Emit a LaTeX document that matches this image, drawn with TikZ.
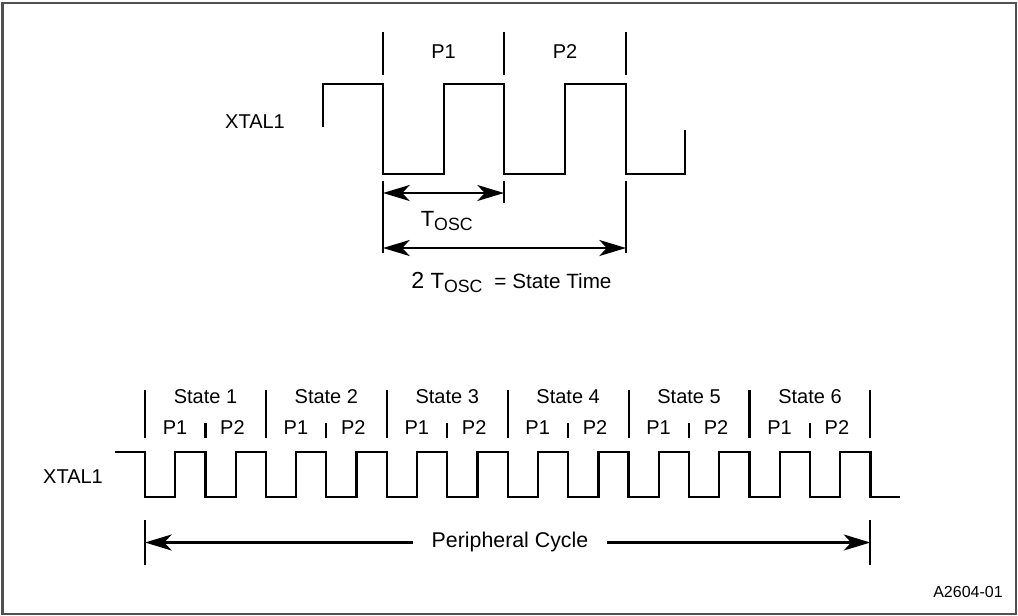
\documentclass[tikz,border=0pt]{standalone}
\usepackage{fontspec}
\setmainfont{Liberation Sans}
\usetikzlibrary{positioning,arrows.meta}
\definecolor{cFrame}{RGB}{80,80,80}
\newcommand{\Tosc}{{\fontsize{16.5}{17}\selectfont T}\raisebox{-3.2pt}{\fontsize{13.3}{14}\selectfont OSC}}

\begin{document}
\begin{tikzpicture}[x=0.75pt,y=-0.75pt,font=\fontsize{15}{18}\selectfont]
\tikzset{wave/.style={line width=1.7pt,line join=miter},
  tickmark/.style={line width=1.6pt},
  dim/.style={line width=1.6pt,{Stealth[length=20pt,width=12pt,inset=5.5pt]}-{Stealth[length=20pt,width=12pt,inset=5.5pt]}},
  lbl/.style={inner sep=0pt}}
\useasboundingbox (0,0) rectangle (1018,615);
\draw[cFrame,line width=1.5pt] (2.5,2.5) rectangle (1015.5,613.5);

% one state, enlarged
\node[lbl] (xtalA) at (255,122) {XTAL1};
\draw[wave] (323,127) -- (323,84) -- (383,84) -- (383,174) -- (444,174) -- (444,84) -- (504,84)
  -- (504,174) -- (565,174) -- (565,84) -- (626,84) -- (626,174) -- (685,174) -- (685,130);
\foreach \x in {383,504,626} \draw[tickmark] (\x,32) -- (\x,75);
\node[lbl] (p1) at (443.5,52) {P1};
\node[lbl] (p2) at (565,52) {P2};
\draw[tickmark] (383,181) -- (383,253);
\draw[tickmark] (504,181) -- (504,203);
\draw[tickmark] (626,181) -- (626,253);
\coordinate (osc0) at (383,193);
\coordinate (osc1) at (504,193);
\coordinate (st0) at (383,248);
\coordinate (st1) at (626,248);
\draw[dim] (osc0) -- (osc1);
\draw[dim] (st0) -- (st1);
\node[lbl,anchor=base west] (tosc) at (420.5,226.7) {\Tosc};
\node[lbl,anchor=base west] (stime) at (411,288.3) {{\fontsize{17.4}{18}\selectfont 2 }\Tosc\hspace{9pt}{\fontsize{15.5}{16}\selectfont = State Time}};

% six states = one peripheral cycle
\node[lbl] (xtalB) at (73,477) {XTAL1};
\draw[wave] (115,452) -- (145,452)
  \foreach \k in {1,...,12} { -- ++(0,45) -- ++(30.225,0) -- ++(0,-45) -- ++(30.225,0) }
  -- ++(0,45) -- ++(29.5,0);
\foreach \j in {0,...,6} \draw[tickmark] (145+120.9*\j,390) -- ++(0,48);
\foreach \j in {1,...,6} {
  \node[lbl] (state\j) at (145+120.9*\j-60.45,397) {State \j};
  \node[lbl] (pa\j) at (145+120.9*\j-90.9,428) {P1};
  \node[lbl] (pb\j) at (145+120.9*\j-33.5,428) {P2};
  \draw[tickmark] (145+120.9*\j-60.45,423) -- ++(0,15);
}
\draw[tickmark] (145,520) -- (145,565);
\draw[tickmark] (870.4,520) -- (870.4,565);
\coordinate (pc0) at (145,542.5);
\coordinate (pc1) at (870.4,542.5);
\draw[dim] (pc0) -- (pc1);
\node[lbl,fill=white,inner xsep=14pt,inner ysep=2pt,font=\fontsize{16}{18}\selectfont] (pcyc) at (510,542) {Peripheral Cycle};

\node[lbl,font=\fontsize{12}{14}\selectfont] (figno) at (968,592) {A2604-01};
\end{tikzpicture}
\end{document}
